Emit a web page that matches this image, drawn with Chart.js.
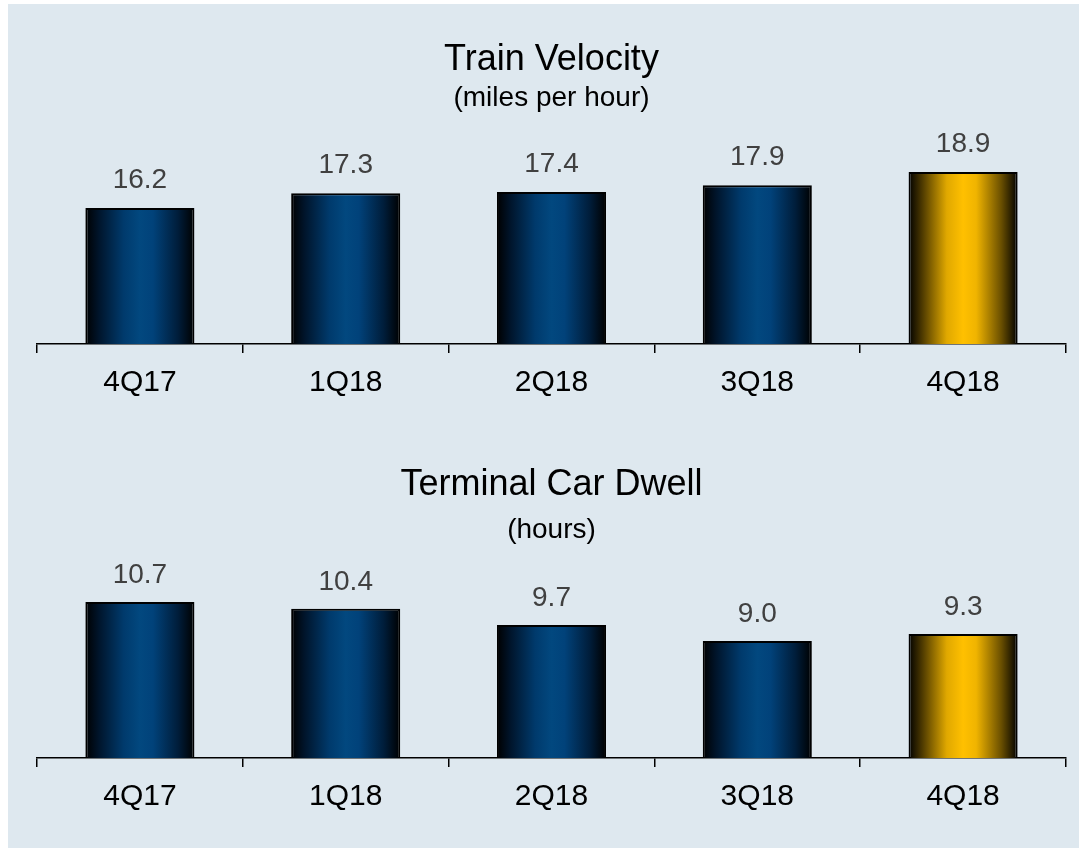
<!DOCTYPE html>
<html>
<head>
<meta charset="utf-8">
<script src="https://cdn.jsdelivr.net/npm/chart.js@4.4.1/dist/chart.umd.min.js"></script>
<style>
  html, body { margin: 0; padding: 0; background: #ffffff; }
  body { width: 1079px; height: 848px; position: relative; overflow: hidden; }
  #panel { position: absolute; left: 8px; top: 4px; width: 1071px; height: 844px; background: #dee8ef; }
  canvas { position: absolute; left: 0; }
  #velocityChart { top: 0; }
  #dwellChart { top: 424px; }
</style>
</head>
<body>
<div id="panel"></div>
<canvas id="velocityChart" width="1079" height="424"></canvas>
<canvas id="dwellChart" width="1079" height="424"></canvas>
<script>
// Chart data
const quarters = ['4Q17', '1Q18', '2Q18', '3Q18', '4Q18'];
const velocity = [16.2, 17.3, 17.4, 17.9, 18.9];
const dwell = [10.7, 10.4, 9.7, 9.0, 9.3];
const highlightIndex = 4;

const FONT = "'Liberation Sans', Arial, sans-serif";
const BAR_PCT = 0.53;

// horizontal "cylinder" shading for each bar
const blueStops = [[0, '#000000'], [0.12, '#00142a'], [0.35, '#003a6c'], [0.5, '#02487f'], [0.62, '#01427a'], [0.85, '#001d3a'], [1, '#000000']];
const goldStops = [[0, '#000000'], [0.12, '#4a3700'], [0.35, '#e0a800'], [0.5, '#ffc000'], [0.62, '#f0b400'], [0.85, '#6a4f00'], [1, '#000000']];

function barFill(context) {
  const chart = context.chart;
  const xs = chart.scales.x;
  const stops = context.dataIndex === highlightIndex ? goldStops : blueStops;
  if (!xs || !xs.width) return stops[3][1];
  const cx = xs.getPixelForValue(context.dataIndex);
  const w = xs.width / quarters.length * BAR_PCT;
  const g = chart.ctx.createLinearGradient(cx - w / 2, 0, cx + w / 2, 0);
  stops.forEach(s => g.addColorStop(s[0], s[1]));
  return g;
}

// value labels above the bars
const valueLabels = {
  id: 'valueLabels',
  afterDatasetsDraw(chart, args, opts) {
    const ctx = chart.ctx;
    const meta = chart.getDatasetMeta(0);
    const data = chart.data.datasets[0].data;
    ctx.save();
    ctx.font = '28px ' + FONT;
    ctx.fillStyle = '#404040';
    ctx.textAlign = 'center';
    ctx.textBaseline = 'middle';
    meta.data.forEach((bar, i) => {
      ctx.fillText(data[i].toFixed(1), bar.x, bar.y - opts.offset);
    });
    ctx.restore();
  }
};

function makeChart(id, values, cfg) {
  return new Chart(document.getElementById(id), {
    type: 'bar',
    data: {
      labels: quarters,
      datasets: [{
        data: values,
        backgroundColor: barFill,
        borderColor: '#000000',
        borderWidth: 2,
        borderSkipped: 'bottom',
        categoryPercentage: 1,
        barPercentage: BAR_PCT
      }]
    },
    options: {
      responsive: false,
      animation: false,
      layout: { padding: { top: 20, left: 37, right: 13, bottom: cfg.bottomPad } },
      scales: {
        x: {
          offset: true,
          grid: { offset: true, drawOnChartArea: false, drawTicks: true, tickLength: 9, color: '#000000', lineWidth: 1.5 },
          border: { display: true, color: '#000000', width: 1.5 },
          ticks: { color: '#000000', padding: cfg.tickPad, font: { family: FONT, size: 30 } },
          afterFit(scale) { scale.height = 56; }
        },
        y: { display: false, min: cfg.min, max: cfg.max }
      },
      plugins: {
        legend: { display: false },
        tooltip: { enabled: false },
        title: {
          display: true,
          text: cfg.title,
          color: '#000000',
          font: { family: FONT, size: 36, weight: 'normal' },
          padding: { top: cfg.titlePad, bottom: 0 }
        },
        subtitle: {
          display: true,
          text: cfg.subtitle,
          color: '#000000',
          font: { family: FONT, size: 28, weight: 'normal' },
          padding: { top: cfg.subPad, bottom: 0 }
        },
        valueLabels: { offset: cfg.labelOffset }
      }
    },
    plugins: [valueLabels]
  });
}

makeChart('velocityChart', velocity, {
  title: 'Train Velocity', subtitle: '(miles per hour)',
  min: 6, max: 23.19, bottomPad: 24, tickPad: 11.5,
  titlePad: 18, subPad: 0, labelOffset: 28
});

makeChart('dwellChart', dwell, {
  title: 'Terminal Car Dwell', subtitle: '(hours)',
  min: 3.9, max: 13.09, bottomPad: 34, tickPad: 11.7,
  titlePad: 19.2, subPad: 7.1, labelOffset: 27
});
</script>
</body>
</html>
